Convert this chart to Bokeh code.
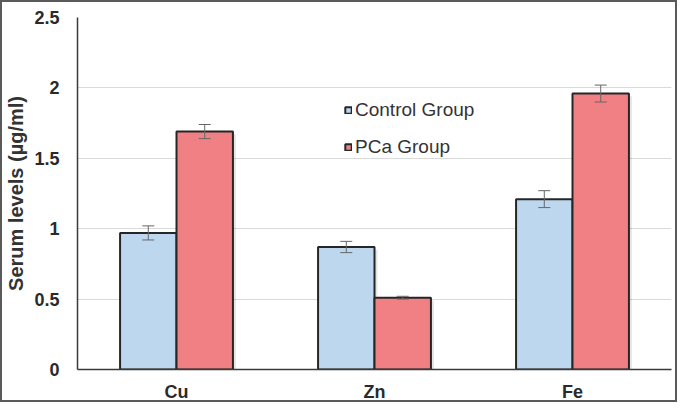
from bokeh.plotting import figure
from bokeh.models import (ColumnDataSource, FactorRange, Range1d, Whisker, TeeHead,
                          Legend, LegendItem, SingleIntervalTicker, CustomJSTickFormatter)
from bokeh.transform import dodge
from bokeh.embed import file_html
from bokeh.resources import INLINE

elements = ["Cu", "Zn", "Fe"]
control = [0.97, 0.87, 1.21]
control_err = [0.05, 0.04, 0.06]
pca = [1.69, 0.51, 1.96]
pca_err = [0.05, 0.01, 0.06]

FONT = "Liberation Sans"
BLUE = "#BDD7EE"
RED = "#F08084"

src = ColumnDataSource(dict(
    el=elements,
    control=control,
    pca=pca,
    c_lo=[v - e for v, e in zip(control, control_err)],
    c_hi=[v + e for v, e in zip(control, control_err)],
    p_lo=[v - e for v, e in zip(pca, pca_err)],
    p_hi=[v + e for v, e in zip(pca, pca_err)],
    c_sh=[v - 0.02 for v in control],
    p_sh=[v - 0.02 for v in pca],
))

p = figure(width=677, height=402, x_range=FactorRange(factors=elements),
           y_range=Range1d(0, 2.5), output_backend="svg", toolbar_location=None,
           min_border_left=66, min_border_right=8, min_border_top=15, min_border_bottom=30)
p.styles = {"border": "2px solid #5a5a5a"}
p.outline_line_color = None
p.background_fill_color = "white"
p.border_fill_color = "white"

off = 0.1425
bw = 0.285
# soft shadows
p.vbar(x=dodge("el", -off + 0.015, range=p.x_range), top="c_sh", width=bw, source=src,
       fill_color="#000000", fill_alpha=0.10, line_color=None)
p.vbar(x=dodge("el", off + 0.015, range=p.x_range), top="p_sh", width=bw, source=src,
       fill_color="#000000", fill_alpha=0.10, line_color=None)

r1 = p.vbar(x=dodge("el", -off, range=p.x_range), top="control", width=bw, source=src,
            fill_color=BLUE, line_color="#262626", line_width=2)
r2 = p.vbar(x=dodge("el", off, range=p.x_range), top="pca", width=bw, source=src,
            fill_color=RED, line_color="#262626", line_width=2)

for lo, hi, d in (("c_lo", "c_hi", -off), ("p_lo", "p_hi", off)):
    w = Whisker(base=dodge("el", d, range=p.x_range), lower=lo, upper=hi, source=src,
                line_color="#666666", line_width=1, level="overlay",
                upper_head=TeeHead(size=12, line_color="#666666", line_width=1),
                lower_head=TeeHead(size=12, line_color="#666666", line_width=1))
    p.add_layout(w)

# axes
p.yaxis.ticker = SingleIntervalTicker(interval=0.5)
p.yaxis.formatter = CustomJSTickFormatter(code="return tick.toString();")
p.yaxis.axis_label = "Serum levels (µg/ml)"
p.yaxis.axis_label_text_font = FONT
p.yaxis.axis_label_text_font_style = "bold"
p.yaxis.axis_label_text_font_size = "20px"
p.yaxis.axis_label_text_color = "#333333"
p.yaxis.axis_label_standoff = 4
for ax in (p.xaxis, p.yaxis):
    ax.major_label_text_font = FONT
    ax.major_label_text_font_style = "bold"
    ax.major_label_text_font_size = "18px"
    ax.major_label_text_color = "#2a2a2a"
    ax.major_tick_line_color = None
    ax.minor_tick_line_color = None
    ax.axis_line_color = "#3a3a3a"
    ax.axis_line_width = 1.5
p.yaxis.major_label_standoff = 12
p.xaxis.major_label_standoff = 6

p.xgrid.grid_line_color = None
p.ygrid.grid_line_color = "#d9d9d9"
p.ygrid.grid_line_width = 1

legend = Legend(items=[LegendItem(label="Control Group", renderers=[r1]),
                       LegendItem(label="PCa Group", renderers=[r2])],
                location=(267, 211), orientation="vertical",
                glyph_width=8, glyph_height=8, label_height=22, spacing=15,
                label_standoff=3, padding=0, margin=0,
                label_text_font=FONT, label_text_font_size="19px",
                label_text_color="#333333",
                border_line_color=None, background_fill_alpha=0)
p.add_layout(legend, "center")

open("out.html", "w").write(file_html(p, INLINE))
